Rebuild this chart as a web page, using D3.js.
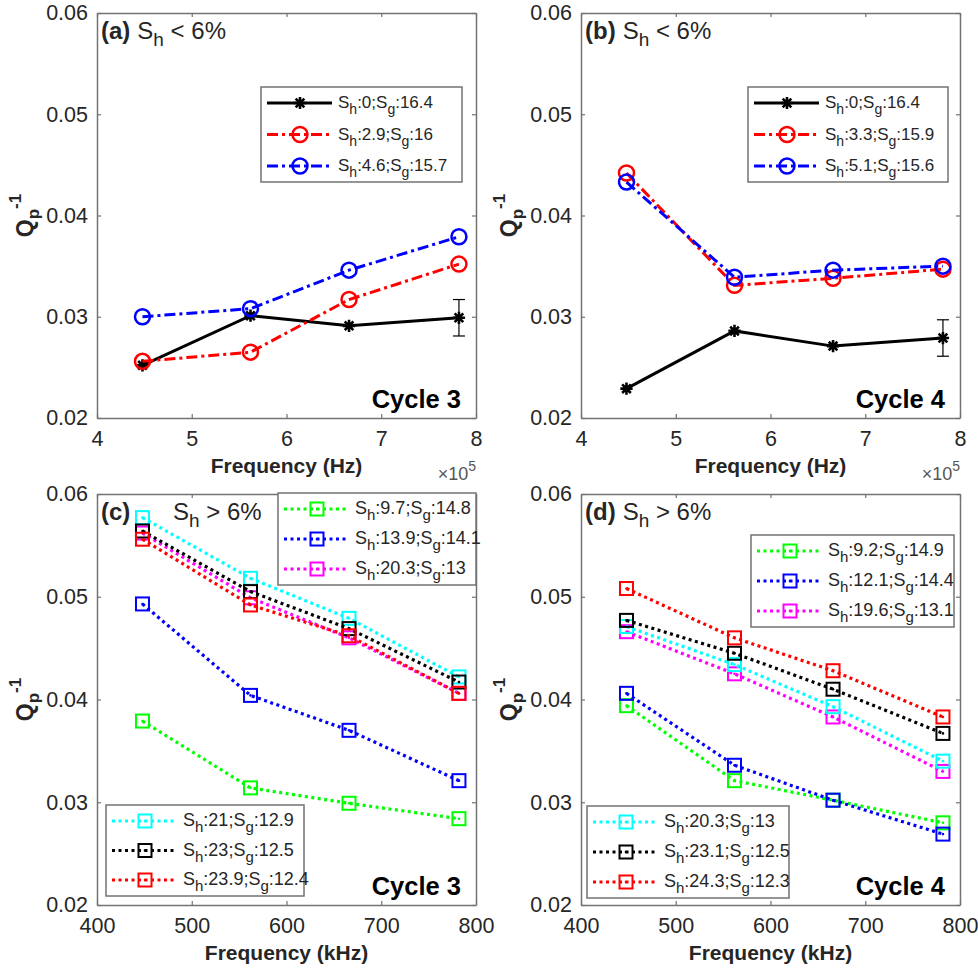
<!DOCTYPE html>
<html lang="en">
<head>
<meta charset="UTF-8">
<title>Qp-1 vs frequency</title>
<script src="https://d3js.org/d3.v7.min.js"></script>
<style>
  body { margin: 0; background: #fff; font-family: "Liberation Sans", Arial, sans-serif; }
  svg text { fill: #262626; }
  .domain { stroke: #737373; stroke-width: 1.5; }
  .tick line { stroke: #737373; stroke-width: 1.2; }
  .tick text { font-size: 21.5px; fill: #262626; font-family: "Liberation Sans", Arial, sans-serif; }
</style>
</head>
<body>
<svg id="chart" width="978" height="970"></svg>
<script>
// frequencies of the four measurements
const freqHz = [4.48e5, 5.62e5, 6.66e5, 7.82e5];
const freqKHz = [448, 562, 666, 782];
const xTicksHz = [4e5, 5e5, 6e5, 7e5, 8e5];
const xTicksKHz = [400, 500, 600, 700, 800];
const yTicks = [0.02, 0.03, 0.04, 0.05, 0.06];

// (a) cycle 3, Sh < 6%
const aSh0 = [0.0252, 0.0301, 0.0291, 0.0299];
const aSh29 = [0.0256, 0.0265, 0.0317, 0.0352];
const aSh46 = [0.0300, 0.0308, 0.0346, 0.0379];
const aErr = [null, null, null, 0.0018];
const aLabels = [["0", "16.4"], ["2.9", "16"], ["4.6", "15.7"]];

// (b) cycle 4, Sh < 6%
const bSh0 = [0.0229, 0.0286, 0.0271, 0.0279];
const bSh33 = [0.0442, 0.0331, 0.0338, 0.0347];
const bSh51 = [0.0433, 0.0339, 0.0346, 0.0350];
const bErr = [null, null, null, 0.0018];
const bLabels = [["0", "16.4"], ["3.3", "15.9"], ["5.1", "15.6"]];

// (c) cycle 3, Sh > 6%
const cSh97 = [0.0379, 0.0314, 0.0299, 0.0284];
const cSh139 = [0.0493, 0.0404, 0.0370, 0.0321];
const cSh203 = [0.0562, 0.0499, 0.0460, 0.0406];
const cSh21 = [0.0577, 0.0518, 0.0479, 0.0422];
const cSh23 = [0.0564, 0.0505, 0.0469, 0.0417];
const cSh239 = [0.0556, 0.0492, 0.0462, 0.0406];
const cLabels = [["9.7", "14.8"], ["13.9", "14.1"], ["20.3", "13"], ["21", "12.9"], ["23", "12.5"], ["23.9", "12.4"]];

// (d) cycle 4, Sh > 6%
const dSh92 = [0.0394, 0.0321, 0.0302, 0.0280];
const dSh121 = [0.0406, 0.0336, 0.0302, 0.0269];
const dSh196 = [0.0466, 0.0425, 0.0383, 0.0330];
const dSh203 = [0.0471, 0.0434, 0.0393, 0.0340];
const dSh231 = [0.0477, 0.0445, 0.0410, 0.0367];
const dSh243 = [0.0508, 0.0460, 0.0428, 0.0383];
const dLabels = [["9.2", "14.9"], ["12.1", "14.4"], ["19.6", "13.1"], ["20.3", "13"], ["23.1", "12.5"], ["24.3", "12.3"]];

const DASHDOT = "11,4,3,4";
const DOTTED = "3,3.5";

// 8-armed star like the matlab '*' marker
const starSymbol = {
  draw(ctx, size) {
    const r = Math.sqrt(size) / 2, q = r * 0.707;
    ctx.moveTo(0, -r); ctx.lineTo(0, r);
    ctx.moveTo(-r, 0); ctx.lineTo(r, 0);
    ctx.moveTo(-q, -q); ctx.lineTo(q, q);
    ctx.moveTo(-q, q); ctx.lineTo(q, -q);
  }
};

const lowSeries = (v0, v1, v2, err, labels) => [
  { vals: v0, color: "#000", marker: "star", dash: null, err: err, lab: labels[0] },
  { vals: v1, color: "#ff0000", marker: "circle", dash: DASHDOT, lab: labels[1] },
  { vals: v2, color: "#0000ff", marker: "circle", dash: DASHDOT, lab: labels[2] }
];
const highSeries = (vals, labels) => {
  const cols = ["#00ff00", "#0000ff", "#ff00ff", "#00ffff", "#000", "#ff0000"];
  return vals.map((v, i) => ({ vals: v, color: cols[i], marker: "square", dash: DOTTED, lab: labels[i] }));
};

const panels = [
  { tag: "(a)", rest: "< 6%", restX: null, cycle: "Cycle 3", x0: 97, x1: 476, y0: 13, y1: 418,
    xs: freqHz, xDomain: [4e5, 8e5], xTicks: xTicksHz, fmt: d => d / 1e5, xlabel: "Frequency (Hz)", exp: true,
    series: lowSeries(aSh0, aSh29, aSh46, aErr, aLabels), fs: 17,
    legends: [{ x: 261, y: 87, w: 201, h: 95, items: [0, 1, 2] }] },
  { tag: "(b)", rest: "< 6%", restX: null, cycle: "Cycle 4", x0: 581, x1: 960, y0: 13, y1: 418,
    xs: freqHz, xDomain: [4e5, 8e5], xTicks: xTicksHz, fmt: d => d / 1e5, xlabel: "Frequency (Hz)", exp: true,
    series: lowSeries(bSh0, bSh33, bSh51, bErr, bLabels), fs: 17,
    legends: [{ x: 748, y: 87, w: 200, h: 95, items: [0, 1, 2] }] },
  { tag: "(c)", rest: "> 6%", restX: 76, cycle: "Cycle 3", x0: 97, x1: 476, y0: 494, y1: 905,
    xs: freqKHz, xDomain: [400, 800], xTicks: xTicksKHz, fmt: d => d, xlabel: "Frequency (kHz)", exp: false,
    series: highSeries([cSh97, cSh139, cSh203, cSh21, cSh23, cSh239], cLabels), fs: 18,
    legends: [{ x: 278, y: 493, w: 198, h: 92, items: [0, 1, 2] }, { x: 106, y: 805, w: 198, h: 91, items: [3, 4, 5] }] },
  { tag: "(d)", rest: "> 6%", restX: null, cycle: "Cycle 4", x0: 581, x1: 960, y0: 494, y1: 905,
    xs: freqKHz, xDomain: [400, 800], xTicks: xTicksKHz, fmt: d => d, xlabel: "Frequency (kHz)", exp: false,
    series: highSeries([dSh92, dSh121, dSh196, dSh203, dSh231, dSh243], dLabels), fs: 18,
    legends: [{ x: 751, y: 535, w: 203, h: 92, items: [0, 1, 2] }, { x: 587, y: 806, w: 202, h: 92, items: [3, 4, 5] }] }
];

const svg = d3.select("#chart");

function drawMarker(g, s, cx, cy) {
  if (s.marker === "star") {
    g.append("path").attr("d", d3.symbol(starSymbol, 150)())
      .attr("transform", `translate(${cx},${cy})`)
      .attr("fill", "none").attr("stroke", s.color).attr("stroke-width", 2.6);
  } else if (s.marker === "circle") {
    g.append("circle").attr("cx", cx).attr("cy", cy).attr("r", 7.5)
      .attr("fill", "none").attr("stroke", s.color).attr("stroke-width", 2.5);
  } else {
    g.append("rect").attr("x", cx - 6.5).attr("y", cy - 6.5).attr("width", 13).attr("height", 13)
      .attr("fill", "none").attr("stroke", s.color).attr("stroke-width", 2);
    g.append("circle").attr("cx", cx).attr("cy", cy).attr("r", 1.3).attr("fill", s.color);
  }
}

function legendLabel(t, lab, fs) {
  const sub = Math.round(fs * 0.82);
  t.append("tspan").text("S");
  t.append("tspan").attr("font-size", sub).attr("dy", 6).text("h");
  t.append("tspan").attr("dy", -6).text(":" + lab[0] + ";S");
  t.append("tspan").attr("font-size", sub).attr("dy", 6).text("g");
  t.append("tspan").attr("dy", -6).text(":" + lab[1]);
}

panels.forEach(p => {
  const g = svg.append("g");
  const x = d3.scaleLinear().domain(p.xDomain).range([p.x0, p.x1]);
  const y = d3.scaleLinear().domain([0.02, 0.06]).range([p.y1, p.y0]);

  // box + ticks (inward, matlab style)
  g.append("g").attr("transform", `translate(0,${p.y1})`)
    .call(d3.axisBottom(x).tickValues(p.xTicks).tickFormat(p.fmt).tickSize(-4).tickSizeOuter(0).tickPadding(13));
  g.append("g").attr("transform", `translate(0,${p.y0})`)
    .call(d3.axisTop(x).tickValues(p.xTicks).tickFormat("").tickSize(-4).tickSizeOuter(0));
  g.append("g").attr("transform", `translate(${p.x0},0)`)
    .call(d3.axisLeft(y).tickValues(yTicks).tickFormat(d3.format(".2f")).tickSize(-4).tickSizeOuter(0).tickPadding(9));
  g.append("g").attr("transform", `translate(${p.x1},0)`)
    .call(d3.axisRight(y).tickValues(yTicks).tickFormat("").tickSize(-4).tickSizeOuter(0));

  // lines
  const line = d3.line().x((d, i) => x(p.xs[i])).y(d => y(d));
  p.series.forEach(s => {
    g.append("path").datum(s.vals).attr("d", line)
      .attr("fill", "none").attr("stroke", s.color)
      .attr("stroke-width", s.marker === "square" ? 3.2 : 3)
      .attr("stroke-dasharray", s.dash);
    if (s.err) {
      s.err.forEach((e, i) => {
        if (e == null) return;
        const cx = x(p.xs[i]);
        const eg = g.append("g").attr("stroke", "#000").attr("stroke-width", 1.2);
        eg.append("line").attr("x1", cx).attr("x2", cx).attr("y1", y(s.vals[i] - e)).attr("y2", y(s.vals[i] + e));
        eg.append("line").attr("x1", cx - 6).attr("x2", cx + 6).attr("y1", y(s.vals[i] - e)).attr("y2", y(s.vals[i] - e));
        eg.append("line").attr("x1", cx - 6).attr("x2", cx + 6).attr("y1", y(s.vals[i] + e)).attr("y2", y(s.vals[i] + e));
      });
    }
    s.vals.forEach((v, i) => drawMarker(g, s, x(p.xs[i]), y(v)));
  });

  // legends
  p.legends.forEach(L => {
    const lg = g.append("g");
    lg.append("rect").attr("x", L.x).attr("y", L.y).attr("width", L.w).attr("height", L.h)
      .attr("fill", "#fff").attr("stroke", "#737373").attr("stroke-width", 1.5);
    const rowGap = (L.h - 32) / 2;
    L.items.forEach((k, j) => {
      const s = p.series[k];
      const ry = L.y + 16 + j * rowGap;
      lg.append("line").attr("x1", L.x + 6).attr("x2", L.x + 71).attr("y1", ry).attr("y2", ry)
        .attr("stroke", s.color).attr("stroke-width", s.marker === "square" ? 3.2 : 3)
        .attr("stroke-dasharray", s.dash);
      drawMarker(lg, s, L.x + 39, ry);
      const t = lg.append("text").attr("x", L.x + 77).attr("y", ry + 5).attr("font-size", p.fs);
      legendLabel(t, s.lab, p.fs);
    });
  });

  // panel title
  const tt = g.append("text").attr("x", p.x0 + 4).attr("y", p.y0 + 26).attr("font-size", 24);
  tt.append("tspan").attr("font-weight", "bold").text(p.tag);
  const st = tt.append("tspan").text("S");
  if (p.restX != null) st.attr("x", p.x0 + p.restX); else st.attr("dx", 7);
  tt.append("tspan").attr("font-size", 19).attr("dy", 7).text("h");
  tt.append("tspan").attr("dy", -7).text(" " + p.rest);

  // cycle label
  g.append("text").attr("x", p.x1 - 15).attr("y", p.y1 - 10).attr("text-anchor", "end")
    .attr("font-size", 25.5).attr("font-weight", "bold").style("fill", "#000").text(p.cycle);

  // x label
  g.append("text").attr("x", (p.x0 + p.x1) / 2).attr("y", p.y1 + 55).attr("text-anchor", "middle")
    .attr("font-size", 21).attr("font-weight", "bold").text(p.xlabel);
  if (p.exp) {
    const et = g.append("text").attr("x", p.x1).attr("y", p.y1 + 62).attr("text-anchor", "end")
      .attr("font-size", 18).style("fill", "#555");
    et.append("tspan").text("\u00d710");
    et.append("tspan").attr("font-size", 14).attr("dy", -9).text("5");
  }

  // y label
  const yl = g.append("text")
    .attr("transform", `translate(${p.x0 - 64},${(p.y0 + p.y1) / 2}) rotate(-90)`)
    .attr("text-anchor", "middle").attr("font-size", 23).attr("font-weight", "bold");
  yl.append("tspan").text("Q");
  yl.append("tspan").attr("font-size", 17).attr("dy", 6).text("p");
  yl.append("tspan").attr("font-size", 17).attr("dy", -18).text("-1");
});
</script>
</body>
</html>
